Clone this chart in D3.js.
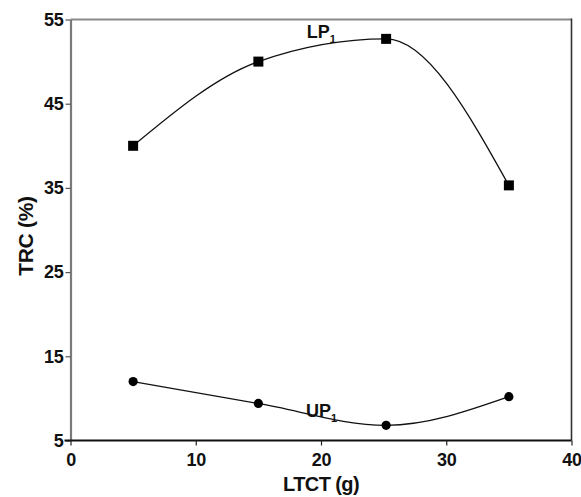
<!DOCTYPE html>
<html>
<head>
<meta charset="utf-8">
<script src="https://cdn.jsdelivr.net/npm/d3@7"></script>
<style>
  body { margin: 0; background: #fff; }
  text { font-family: "Liberation Sans", Arial, sans-serif; font-weight: bold; }
</style>
</head>
<body>
<svg id="chart" width="581" height="497"></svg>
<script>
// values
var ltct = [5, 15, 25.2, 35];            // LTCT (g)
var lp1 = [40.0, 50.0, 52.7, 35.3];      // TRC (%) for LP1
var up1 = [12.0, 9.4, 6.8, 10.2];        // TRC (%) for UP1
var xTicks = [0, 10, 20, 30, 40];
var yTicks = [5, 15, 25, 35, 45, 55];
var seriesNames = ["LP", "UP"];
var labelX = [18.86, 18.8];              // where the curve names sit (data units)
var labelY = [52.8, 7.75];

var svg = d3.select("#chart");

// plot box edges (px)
var plotL = 70.5, plotR = 571.5, plotT = 19.5, plotB = 440.5;

var x = d3.scaleLinear().domain([0, 40]).range([plotL, plotR]);
var y = d3.scaleLinear().domain([5, 55]).range([plotB, plotT]);

// frame: top + right borders
svg.append("line")
  .attr("x1", plotL).attr("x2", plotR)
  .attr("y1", plotT).attr("y2", plotT)
  .attr("stroke", "#8a8a8a").attr("stroke-width", 2);
svg.append("line")
  .attr("x1", plotR).attr("x2", plotR)
  .attr("y1", plotT - 1).attr("y2", plotB)
  .attr("stroke", "#333").attr("stroke-width", 1.6);

// y axis (grey)
var yAxis = svg.append("g")
  .attr("transform", "translate(" + plotL + ",0)")
  .call(d3.axisLeft(y).tickValues(yTicks).tickSize(5).tickPadding(2).tickSizeOuter(0));
yAxis.select(".domain").attr("stroke", "#7a7a7a").attr("stroke-width", 2.2);
yAxis.selectAll(".tick line").attr("stroke", "#555").attr("stroke-width", 1.2);
yAxis.selectAll(".tick text")
  .attr("fill", "#111")
  .style("font-size", "18px")
  .style("letter-spacing", "-0.3px");

// x axis (black)
var xAxis = svg.append("g")
  .attr("transform", "translate(0," + plotB + ")")
  .call(d3.axisBottom(x).tickValues(xTicks).tickSize(5).tickPadding(8).tickSizeOuter(0));
xAxis.select(".domain").attr("stroke", "#111").attr("stroke-width", 2).attr("d", "M" + (plotL - 6) + ",0H" + plotR);
xAxis.selectAll(".tick line").attr("stroke", "#222").attr("stroke-width", 1.2);
xAxis.selectAll(".tick text")
  .attr("fill", "#111")
  .style("font-size", "18px")
  .style("letter-spacing", "-0.3px");

// axis titles
svg.append("text")
  .attr("x", 321)
  .attr("y", 491)
  .attr("text-anchor", "middle")
  .style("font-size", "20px")
  .style("letter-spacing", "-0.6px")
  .attr("fill", "#111")
  .text("LTCT (g)");

svg.append("text")
  .attr("transform", "translate(33,236) rotate(-90)")
  .attr("text-anchor", "middle")
  .style("font-size", "21px")
  .style("letter-spacing", "-0.3px")
  .attr("fill", "#111")
  .text("TRC (%)");

// curves
var lpData = ltct.map(function(d, i) { return [d, lp1[i]]; });
var upData = ltct.map(function(d, i) { return [d, up1[i]]; });

var line = d3.line()
  .x(function(d) { return x(d[0]); })
  .y(function(d) { return y(d[1]); })
  .curve(d3.curveMonotoneX);

svg.append("path")
  .attr("d", line(lpData))
  .attr("fill", "none")
  .attr("stroke", "#111")
  .attr("stroke-width", 1.3);

svg.append("path")
  .attr("d", line(upData))
  .attr("fill", "none")
  .attr("stroke", "#111")
  .attr("stroke-width", 1.3);

// markers
svg.selectAll(".sq")
  .data(lpData)
  .enter().append("rect")
  .attr("class", "sq")
  .attr("x", function(d) { return x(d[0]) - 5; })
  .attr("y", function(d) { return y(d[1]) - 5; })
  .attr("width", 10)
  .attr("height", 10)
  .attr("fill", "#000");

svg.selectAll(".dot")
  .data(upData)
  .enter().append("circle")
  .attr("class", "dot")
  .attr("cx", function(d) { return x(d[0]); })
  .attr("cy", function(d) { return y(d[1]); })
  .attr("r", 4.6)
  .attr("fill", "#000");

// curve names with subscript 1
seriesNames.forEach(function(name, i) {
  var t = svg.append("text")
    .attr("x", x(labelX[i]))
    .attr("y", y(labelY[i]))
    .style("font-size", "18px")
    .attr("fill", "#111");
  t.append("tspan").text(name);
  t.append("tspan")
    .attr("dy", 5)
    .style("font-size", "11px")
    .text("1");
});
</script>
</body>
</html>
